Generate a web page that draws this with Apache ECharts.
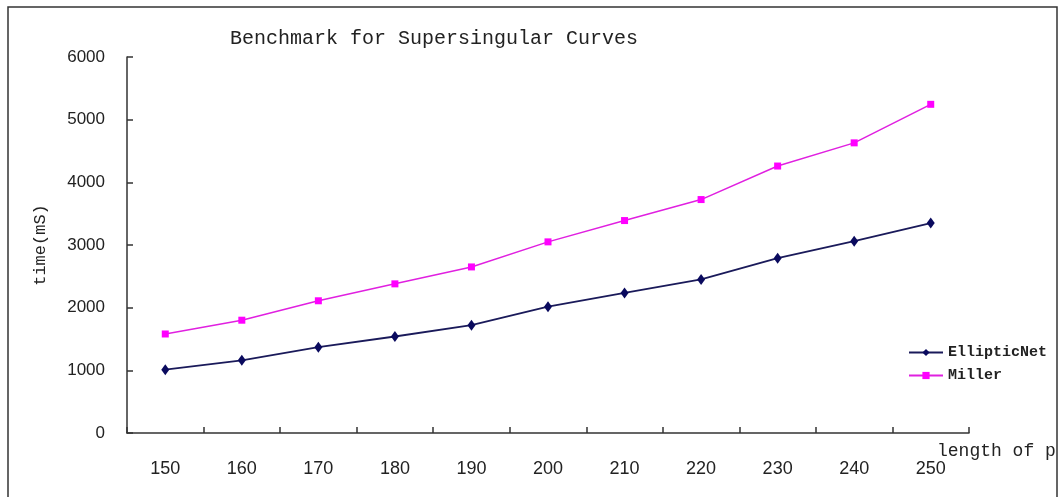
<!DOCTYPE html>
<html>
<head>
<meta charset="utf-8">
<script src="https://cdn.jsdelivr.net/npm/echarts@6/dist/echarts.min.js"></script>
<style>
  html, body { margin: 0; padding: 0; background: #fff; }
  #chart { width: 1062px; height: 497px; }
</style>
</head>
<body>
<div id="chart"></div>
<script>
var categories = ['150', '160', '170', '180', '190', '200', '210', '220', '230', '240', '250'];
var ellipticNet = [1010, 1160, 1370, 1540, 1720, 2015, 2235, 2450, 2790, 3060, 3350];
var miller = [1580, 1800, 2110, 2380, 2650, 3050, 3390, 3725, 4260, 4630, 5245];

var myChart = echarts.init(document.getElementById('chart'));

var option = {
    animation: false,
    backgroundColor: '#fff',
    title: {
        text: 'Benchmark for Supersingular Curves',
        left: 230,
        top: 29,
        padding: 0,
        textStyle: {
            fontFamily: 'Liberation Mono',
            fontWeight: 'normal',
            fontSize: 20,
            color: '#222'
        }
    },
    graphic: [
        {
            type: 'rect',
            shape: { x: 8, y: 7, width: 1049, height: 496 },
            style: { fill: 'none', stroke: '#333', lineWidth: 1.5 },
            silent: true
        }
    ],
    legend: {
        orient: 'vertical',
        left: 903,
        top: 340,
        itemWidth: 34,
        itemHeight: 9,
        itemGap: 8,
        data: ['EllipticNet', 'Miller'],
        textStyle: {
            fontFamily: 'Liberation Mono',
            fontWeight: 'bold',
            fontSize: 15,
            color: '#222'
        }
    },
    grid: {
        left: 127,
        right: 93,
        top: 57,
        bottom: 64
    },
    xAxis: {
        type: 'category',
        data: categories,
        boundaryGap: true,
        name: 'length of p',
        nameLocation: 'end',
        nameGap: -32,
        nameTextStyle: {
            fontFamily: 'Liberation Mono',
            fontSize: 18,
            color: '#222',
            align: 'left',
            verticalAlign: 'top',
            padding: [9, 0, 0, 0]
        },
        axisLine: { lineStyle: { color: '#333', width: 1.5 } },
        axisTick: { show: true, inside: true, length: 6, lineStyle: { color: '#333', width: 1.5 } },
        axisLabel: {
            margin: 27,
            fontFamily: 'Liberation Sans',
            fontSize: 18,
            color: '#222'
        },
        splitLine: { show: false }
    },
    yAxis: {
        type: 'value',
        min: 0,
        max: 6000,
        interval: 1000,
        name: 'time(mS)',
        nameLocation: 'middle',
        nameRotate: 90,
        nameGap: 78,
        nameTextStyle: {
            fontFamily: 'Liberation Mono',
            fontSize: 17,
            color: '#222'
        },
        axisLine: { show: true, lineStyle: { color: '#333', width: 1.5 } },
        axisTick: { show: true, inside: true, length: 6, lineStyle: { color: '#333', width: 1.5 } },
        axisLabel: {
            margin: 22,
            fontFamily: 'Liberation Sans',
            fontSize: 17,
            color: '#222',
            formatter: function (v) { return String(v); }
        },
        splitLine: { show: false }
    },
    series: [
        {
            name: 'EllipticNet',
            type: 'line',
            data: ellipticNet,
            symbol: 'diamond',
            symbolSize: [8, 11],
            color: '#0a0a5e',
            lineStyle: { width: 1.8, color: '#1a1a5a' },
            itemStyle: { color: '#0a0a5e' }
        },
        {
            name: 'Miller',
            type: 'line',
            data: miller,
            symbol: 'rect',
            symbolSize: 7,
            color: '#ff00ff',
            lineStyle: { width: 1.5, color: '#e020e0' },
            itemStyle: { color: '#ff00ff' }
        }
    ]
};

myChart.setOption(option);
window.addEventListener('resize', function () {
    myChart.resize();
});
</script>
</body>
</html>
